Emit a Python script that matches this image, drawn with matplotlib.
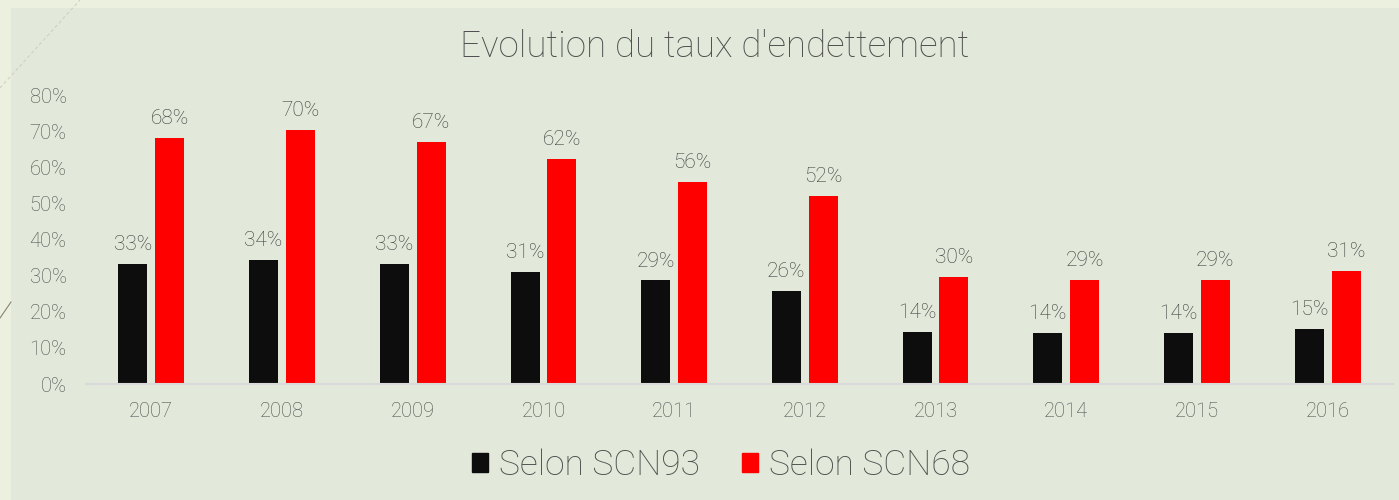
import numpy as np
import matplotlib as mpl
from matplotlib import pylab as plt
from matplotlib.patches import Patch

years = ['2007', '2008', '2009', '2010', '2011', '2012', '2013', '2014', '2015', '2016']
scn93 = [33.2, 34.3, 33.2, 31.0, 28.7, 25.8, 14.4, 14.1, 14.1, 15.3]
scn68 = [68.1, 70.3, 67.0, 62.3, 56.0, 52.1, 29.6, 28.8, 28.8, 31.4]
series_names = ['Selon SCN93', 'Selon SCN68']
title = "Evolution du taux d'endettement"

panel_bg = '#E2E8DA'
outer_bg = '#EBF1DE'
text_col = '#4F4F4F'

plt.rcParams['font.family'] = ['Roboto', 'DejaVu Sans']
plt.rcParams['font.weight'] = 'light'

fig = plt.figure(figsize=[13.99, 5], dpi=100, facecolor=outer_bg)
# inner panel, behind everything
fig.patches.append(mpl.patches.Rectangle((11/1399, 0), 1, 1 - 8/500,
                                         transform=fig.transFigure,
                                         facecolor=panel_bg, edgecolor='none', zorder=-10))
# decorative diagonal strokes in the margin
fig.add_artist(mpl.lines.Line2D([0, 11/1399], [1 - 318/500, 1 - 302/500],
                                transform=fig.transFigure, color='#8a8470', lw=0.8))
fig.add_artist(mpl.lines.Line2D([0, 80/1399], [1 - 88/500, 1],
                                transform=fig.transFigure, color='#c8cbbb', lw=0.6,
                                linestyle=(0, (4, 3))))

ax = fig.add_axes([86/1399, 1 - 384/500, 1307/1399, (384 - 95)/500])
ax.set_facecolor('none')
ax.set_zorder(5)

x = np.arange(len(years))
w = 0.222
off = 0.141
b1 = ax.bar(x - off, scn93, w, color='#0D0D0D', label=series_names[0])
b2 = ax.bar(x + off, scn68, w, color='#FF0000', label=series_names[1])

for bars, vals in [(b1, scn93), (b2, scn68)]:
    for r, v in zip(bars, vals):
        ax.annotate(f'{round(v):.0f}%', xy=(r.get_x() + r.get_width()/2, v),
                    xytext=(0, 7), textcoords='offset points',
                    ha='center', va='bottom', fontsize=15, color='#3A3A3A')

ax.set_xlim(-0.5, len(years) - 0.5)
ax.set_ylim(0, 80)
ax.set_yticks(np.arange(0, 81, 10))
ax.set_yticklabels([f'{t}%' for t in range(0, 81, 10)])
ax.set_xticks(x)
ax.set_xticklabels(years)
ax.tick_params(axis='both', length=0, colors=text_col, labelsize=14.5)
ax.tick_params(axis='x', pad=13)
ax.tick_params(axis='y', pad=14)
for s in ['top', 'right', 'left']:
    ax.spines[s].set_visible(False)
ax.spines['bottom'].set_color('#D9D9D9')
ax.spines['bottom'].set_linewidth(1.5)

fig.text(715/1399, 1 - 47/500, title, ha='center', va='center',
         fontsize=26.5, color=text_col)

handles = [Patch(color='#0D0D0D'), Patch(color='#FF0000')]
fig.legend(handles, series_names, loc='center', bbox_to_anchor=(721/1399, 1 - 465/500),
           ncol=2, frameon=False, fontsize=25.5, labelcolor=text_col,
           handlelength=0.45, handleheight=0.45, handletextpad=0.3, columnspacing=1.2)

plt.savefig('out.png', dpi=100, facecolor=outer_bg)
plt.close()
